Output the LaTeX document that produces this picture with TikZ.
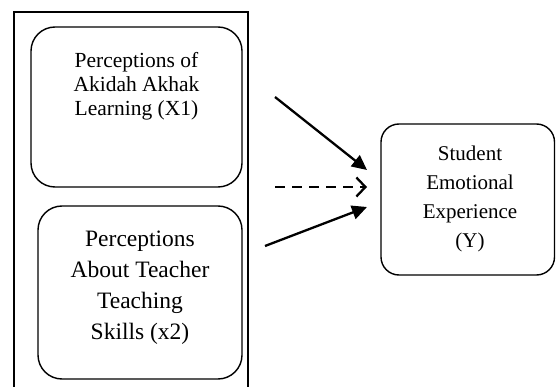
\documentclass[tikz,border=0pt]{standalone}
\usepackage{fontspec}
\setmainfont{Liberation Serif}
\usetikzlibrary{arrows.meta}
\begin{document}
\begin{tikzpicture}[x=1pt,y=-1pt,
  rbox/.style={draw,line width=1.4pt,rounded corners=#1,inner sep=0pt},
  rbox/.default=24pt,
  solidarrow/.style={line width=2.3pt,-{Triangle[length=15pt,width=14pt]}},
  dasharrow/.style={line width=2.3pt,dash pattern=on 10pt off 7pt,-{Straight Barb[length=9pt,width=19pt,line width=2.3pt]}},
  lbl/.style={align=center,inner sep=0pt}]
\useasboundingbox (0,0) rectangle (556,387);
\begin{scope}
\clip (0,0) rectangle (556,387);
\draw[line width=1.2pt] (14,420) -- (14,12) -- (248,12) -- (248,420);
\end{scope}
% X1 box
\draw[rbox] (31,27) rectangle (242,187);
\node[lbl,font=\fontsize{21.5}{24}\selectfont] (x1t) at (136.5,86) {Perceptions of\\Akidah Akhak\\Learning (X1)};
% X2 box
\draw[rbox] (38,206) rectangle (242,379);
\node[lbl,font=\fontsize{23.5}{31}\selectfont] (x2t) at (140,288) {Perceptions\\About Teacher\\Teaching\\Skills (x2)};
% Y box
\draw[rbox=18pt] (381,124) rectangle (554.5,275);
\node[lbl,font=\fontsize{21}{29}\selectfont] (yt) at (470,199) {Student\\Emotional\\Experience\\(Y)};
% arrows
\coordinate (a1s) at (275,97);
\coordinate (a1e) at (367,170);
\coordinate (a2s) at (275,187);
\coordinate (a2e) at (367,187);
\coordinate (a3s) at (265,246);
\coordinate (a3e) at (367,207);
\draw[solidarrow] (a1s) -- (a1e);
\draw[dasharrow] (a2s) -- (a2e);
\draw[solidarrow] (a3s) -- (a3e);
\end{tikzpicture}
\end{document}
